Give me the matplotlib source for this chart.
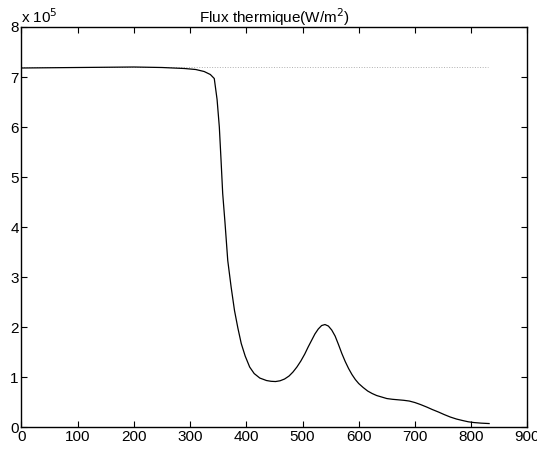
import numpy as np
import matplotlib
matplotlib.use('Agg')
import matplotlib.pyplot as plt
from matplotlib.ticker import FuncFormatter

plt.rcParams['font.family'] = ['Liberation Sans', 'DejaVu Sans']

# position (abscisse) et flux thermique (en 1e5 W/m2)
x = [0, 50, 100, 150, 200, 250, 290, 310, 325, 336, 343, 348, 352, 355, 358,
     362, 367, 373, 379, 385, 391, 398, 406, 414, 424, 436, 444, 452,
     460, 468, 476, 483, 490, 497, 504, 510, 516, 522, 528, 534, 540, 546,
     552, 558, 564, 570, 576, 582, 588, 594, 600, 608, 616, 624, 632, 641, 650,
     660, 670, 680, 690, 700, 710, 721, 731, 742, 752, 763, 774, 785, 795, 805,
     818, 832]
flux = [7.18, 7.185, 7.19, 7.195, 7.2, 7.19, 7.17, 7.15, 7.11, 7.05, 6.97, 6.55,
        6.0, 5.35, 4.67, 4.1, 3.33, 2.8, 2.33, 1.98, 1.67, 1.42, 1.2, 1.07,
        0.98, 0.93, 0.915, 0.91, 0.925, 0.96, 1.02, 1.1, 1.2, 1.32, 1.46, 1.6,
        1.73, 1.86, 1.96, 2.03, 2.05, 2.02, 1.94, 1.82, 1.65,
        1.47, 1.31, 1.17, 1.05, 0.95, 0.87, 0.79, 0.72, 0.67, 0.63, 0.6, 0.57,
        0.555, 0.545, 0.535, 0.52, 0.49, 0.45, 0.4, 0.35, 0.3, 0.25, 0.2, 0.16,
        0.13, 0.105, 0.09, 0.078, 0.07]

# flux initial (ligne pointillee)
x_ref = [0, 830]
flux_ref = [7.2, 7.2]

xticks = [0, 100, 200, 300, 400, 500, 600, 700, 800, 900]
yticks = [0, 1, 2, 3, 4, 5, 6, 7, 8]

flux = np.array(flux) * 1e5
flux_ref = np.array(flux_ref) * 1e5

fig = plt.figure(figsize=(5.37, 4.5), dpi=100)
ax = fig.add_axes([0.040, 0.051, 0.942, 0.889])

ax.plot(x_ref, flux_ref, linestyle=':', color='#b0b0b0', linewidth=0.7, zorder=1)
ax.plot(x, flux, color='black', linewidth=0.9, zorder=2)

ax.set_xlim(0, 900)
ax.set_ylim(0, 8e5)
ax.set_xticks(xticks)
ax.set_yticks([v * 1e5 for v in yticks])
ax.yaxis.set_major_formatter(FuncFormatter(lambda v, p: '%d' % round(v / 1e5)))
ax.tick_params(direction='in', top=True, right=True, length=4, width=0.8,
               labelsize=11, pad=2, colors='black')
for s in ax.spines.values():
    s.set_linewidth(1.0)

ax.text(0.0, 1.003, r'x 10$^5$', transform=ax.transAxes, fontsize=11,
        ha='left', va='bottom')
ax.set_title(r'Flux thermique(W/m$^2$)', fontsize=11, pad=3)

fig.savefig('out.png', dpi=100)
